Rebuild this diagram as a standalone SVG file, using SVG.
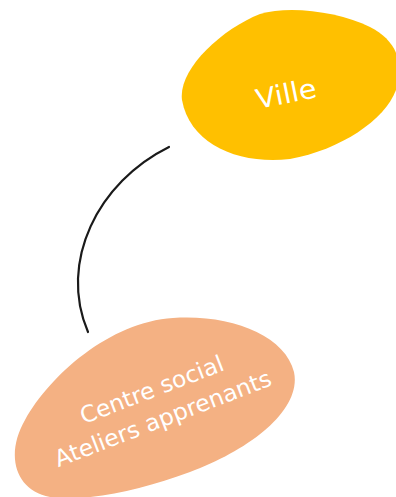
<svg xmlns="http://www.w3.org/2000/svg" width="396" height="497" viewBox="0 0 396 497">
<style>
.lbl{font-family:"DejaVu Sans","Liberation Sans",sans-serif;fill:#ffffff;text-anchor:middle}
.conn{fill:none;stroke:#1a1a1a;stroke-width:2.2;stroke-linecap:round}
</style>
<rect width="396" height="497" fill="#ffffff"/>
<g id="connectors">
<path class="conn" d="M169,147 C98,182 58,262 88,332"/>
</g>
<g id="node-ville">
<path d="M182,100 C178,70 220,30 260,14 C290,5 340,12 370,27 C395,40 405,60 396,90 C385,120 340,150 290,159 C240,165 190,145 182,100 Z" fill="#FFC000"/>
<text class="lbl" x="288" y="103" font-size="27" textLength="61" lengthAdjust="spacingAndGlyphs" transform="rotate(-11.5 288 103)">Ville</text>
</g>
<g id="node-centre">
<path d="M173,318 C230,314 285,335 294,372 C302,410 250,450 190,472 C140,490 90,502 50,497 C15,490 5,455 25,420 C50,375 110,322 173,318 Z" fill="#F4B183"/>
<g transform="translate(160,411) rotate(-21)">
<text class="lbl" x="0" y="-15" font-size="23" textLength="152" lengthAdjust="spacingAndGlyphs">Centre social</text>
<text class="lbl" x="0" y="16" font-size="23" textLength="230" lengthAdjust="spacingAndGlyphs">Ateliers apprenants</text>
</g>
</g>
</svg>
